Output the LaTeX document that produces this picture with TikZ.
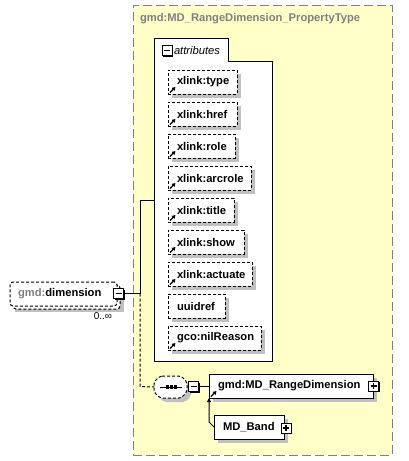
\documentclass[tikz,border=0pt]{standalone}
\usepackage{fontspec}
\setmainfont{Liberation Sans}
\usetikzlibrary{arrows.meta}
\definecolor{bgyellow}{RGB}{255,255,200}
\definecolor{shgray}{RGB}{192,192,192}
\definecolor{txtgray}{RGB}{128,128,128}
\newcommand\minusic[1]{\draw[line width=1.2pt] ([xshift=-3pt]#1.center) -- ([xshift=3pt]#1.center);}
\newcommand\plusic[1]{\minusic{#1}\draw[line width=1.2pt] ([yshift=-3pt]#1.center) -- ([yshift=3pt]#1.center);}
\begin{document}
\begin{tikzpicture}[x=1pt,y=-1pt,line width=1pt,
  every node/.style={inner sep=0pt, outer sep=0pt, font=\fontsize{11.2}{13}\selectfont\bfseries},
  shadowed/.style={preaction={draw=none, fill=shgray, transform canvas={shift={(4pt,-4pt)}}}},
  smalldash/.style={dash pattern=on 3pt off 2pt},
  abox/.style={draw, smalldash, fill=white, shadowed, minimum height=24pt, inner xsep=9pt, text width=#1, align=left, anchor=north west},
  sbox/.style={draw, fill=white, shadowed, minimum height=24pt, inner xsep=9pt, text width=#1, align=left, anchor=north west},
  icon/.style={draw, fill=white, minimum size=10pt, preaction={draw=none, fill=black, transform canvas={shift={(1pt,-1pt)}}}},
  refarr/.style={line width=1.2pt, -{Triangle[length=3.5pt,width=4pt]}}
]
\fill[white] (0,0) rectangle (409,461);
\useasboundingbox (0,0) rectangle (409,461);

% outer type box
\node[draw=txtgray, dash pattern=on 9pt off 4pt, fill=bgyellow, minimum width=259pt, minimum height=450pt, anchor=north west] (outer) at (133,5) {};
\node[anchor=west, text=txtgray] (title) at (140,19) {gmd:MD\_RangeDimension\_PropertyType};

% attributes group
\draw[fill=white] (154,38) -- (228,38) -- (228,61) -- (272,61) -- (272,361) -- (154,361) -- cycle;
\coordinate (attrL) at (154,200);
\node[icon] (attm) at (167,50.5) {};
\minusic{attm}
\node[anchor=west, font=\fontsize{11.2}{13}\selectfont\itshape] (attl) at (174,50.5) {attributes};

\node[abox=51pt] (a1) at (168,70) {xlink:type};
\node[abox=51pt] (a2) at (168,102) {xlink:href};
\node[abox=49pt] (a3) at (168,134) {xlink:role};
\node[abox=65pt] (a4) at (168,166) {xlink:arcrole};
\node[abox=48pt] (a5) at (168,198) {xlink:title};
\node[abox=58pt] (a6) at (168,230) {xlink:show};
\node[abox=66pt] (a7) at (168,262) {xlink:actuate};
\node[abox=39pt] (a8) at (168,294) {uuidref};
\node[abox=75pt] (a9) at (168,326) {gco:nilReason};
\foreach \n in {a1,a2,a3,a4,a5,a6,a7,a9}
  \draw[refarr] ([shift={(2pt,1.5pt)}]\n.south west) -- ++(5.5pt,5.5pt);

% dimension element
\fill[shgray] (15,288) rectangle (124,312);
\draw[smalldash, rounded corners=3pt, fill=white] (13,285) rectangle (120,309);
\node[draw, smalldash, rounded corners=3pt, fill=white, minimum width=107pt, minimum height=24pt, anchor=north west] (dim) at (10,282) {};
\node[anchor=west] (diml) at (18,294) {\textcolor{txtgray}{gmd:}dimension};
\node[icon] (dimm) at (118.5,293.5) {};
\minusic{dimm}
\node[anchor=north east, font=\fontsize{10}{12}\selectfont] (occ) at (112,313) {0..∞};

% sequence compositor
\node[minimum width=33pt, minimum height=22pt] (seq) at (170.5,387) {};
\path[draw, fill=white, smalldash, rounded corners=2pt, shadowed] (160,376) -- (181,376) -- (187,382) -- (187,392) -- (181,398) -- (160,398) -- (154,392) -- (154,382) -- cycle;
\draw (160,387) -- (182,387);
\foreach \x in {165.5,169.5,173.5} \fill (\x,385.3) rectangle (\x+3.2,388.5);
\node[icon] (seqm) at (193.5,386.5) {};
\minusic{seqm}

% range dimension and substitution
\node[sbox=146pt] (rd) at (209,374) {gmd:MD\_RangeDimension};
\draw[refarr] ([shift={(2pt,1.5pt)}]rd.south west) -- ++(5.5pt,5.5pt);
\node[icon] (rdp) at (373.5,386) {};
\plusic{rdp}
\node[sbox=52pt] (band) at (214,415) {MD\_Band};
\node[icon] (bandp) at (286,428) {};
\plusic{bandp}

% connectors
\coordinate (j1) at (140,293.5);
\coordinate (j2) at (140,200);
\coordinate (j3) at (140,386.5);
\draw (dimm.east) -- (j1) -- (j2) -- (attrL);
\draw[smalldash] (j1) -- (j3) -- (seq.west);
\draw (seqm.east) -- (seqm.east -| rd.west);
\draw[-{Triangle[length=4pt,width=4pt]}] (band.west) -- ++(-5pt,5pt) -- (rd.south west);
\end{tikzpicture}
\end{document}
